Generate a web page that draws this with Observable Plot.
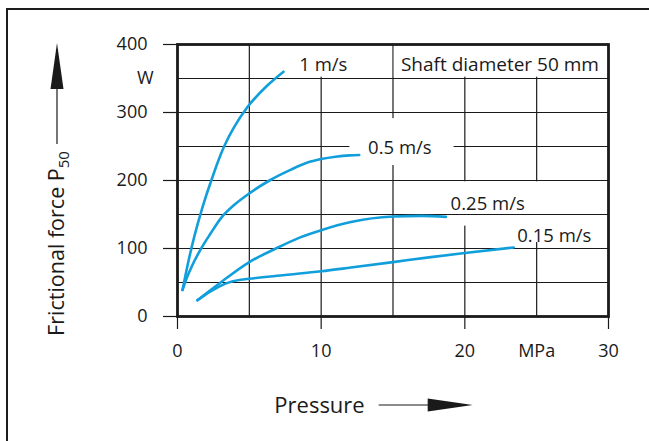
<!DOCTYPE html>
<html><head><meta charset="utf-8">
<script src="https://cdn.jsdelivr.net/npm/d3@7"></script>
<script src="https://cdn.jsdelivr.net/npm/@observablehq/plot@0.6"></script>
<style>
html,body{margin:0;padding:0;background:#fff;overflow:hidden}
#wrap{position:relative;width:649px;height:441px;overflow:hidden}
#border{position:absolute;left:6px;top:8px;width:700px;height:500px;border-left:2.2px solid #1d1d1d;border-top:2.2px solid #1d1d1d;}
#chart{position:absolute;left:0;top:0}
</style></head><body>
<div id="wrap"><div id="border"></div><div id="chart"></div></div>
<script>
// ---- data ----
const speeds = ["1 m/s", "0.5 m/s", "0.25 m/s", "0.15 m/s"];
const press1   = [0.35, 0.8, 1.2, 1.62, 2.0, 2.32, 2.7, 3.0, 3.4, 3.9, 4.87, 6.27, 7.38];
const force1   = [39, 85, 120, 152, 178, 198, 221, 238, 257, 277, 308, 340, 360];
const press05  = [0.35, 0.65, 1.0, 1.62, 2.3, 3.0, 4.0, 5.0, 6.4, 7.9, 9.0, 10.0, 11.0, 12.0, 12.65];
const force05  = [39, 57, 74, 99, 122, 144, 165, 181, 200, 216, 226, 231.5, 235, 237, 237.5];
const press025 = [1.39, 3.0, 5.0, 6.85, 8.5, 10.0, 12.07, 15.0, 17.0, 18.68];
const force025 = [24, 50, 80, 100, 116, 127, 139, 147, 148, 146.5];
const press015 = [1.39, 1.8, 2.3, 2.8, 3.3, 3.8, 4.4, 5.0, 7.5, 10.0, 12.07, 15.0, 17.5, 20.0, 23.4];
const force015 = [24, 30, 37, 43, 48, 51.5, 54, 55.5, 61, 66.5, 72, 80, 87, 93.5, 101.5];

// label anchors (data units) for curve names
const labelPress = [10.15, 15.48, 21.59, 26.23];
const labelForce = [370, 247, 166, 119];
const note = "Shaft diameter 50 mm";
const notePress = 22.44, noteForce = 370.5;

const xTicks = [0, 10, 20, 30];
const yTicks = [0, 100, 200, 300, 400];
const xGrid = [5, 10, 15, 20, 25];
const yGrid = [50, 100, 150, 200, 250, 300, 350];
const xUnit = "MPa", yUnit = "W";
const xTitle = "Pressure";
const yTitle = "Frictional force P";
const yTitleSub = "50";

// gaps in the grid behind the annotations (data units)
const gapV = [ // hide vertical grid lines only
  {x1: 5, x2: 15, y1: 350, y2: 400},
  {x1: 15, x2: 30, y1: 350, y2: 400},
  {x1: 18.9, x2: 24.0, y1: 131, y2: 200},
  {x1: 23.8, x2: 28.6, y1: 107, y2: 200}
];
const gapAll = [ // hide every grid line
  {x1: 12.0, x2: 19.25, y1: 222, y2: 291}
];

const series = [press1, press05, press025, press015];
const forces = [force1, force05, force025, force015];
const rows = series.flatMap((ps, i) => ps.map((p, j) => ({s: speeds[i], p, f: forces[i][j]})));
const labels = speeds.map((s, i) => ({s, p: labelPress[i], f: labelForce[i]}));

const ink = "#1a1a1a";
const blue = "#119fdc";

const plot = Plot.plot({
  width: 649, height: 441,
  marginLeft: 177, marginRight: 41, marginTop: 44, marginBottom: 125,
  x: {domain: [0, 30]},
  y: {domain: [0, 400]},
  style: {fontFamily: "'Open Sans', sans-serif", fontSize: "18px", color: ink, background: "transparent", overflow: "visible"},
  marks: [
    Plot.gridX(xGrid, {stroke: ink, strokeOpacity: 1, strokeWidth: 1.2}),
    Plot.rect(gapV, {x1: "x1", x2: "x2", y1: "y1", y2: "y2", fill: "white", inset: 1.3}),
    Plot.gridY(yGrid, {stroke: ink, strokeOpacity: 1, strokeWidth: 1.2}),
    Plot.rect(gapAll, {x1: "x1", x2: "x2", y1: "y1", y2: "y2", fill: "white"}),
    Plot.frame({stroke: ink, strokeWidth: 2.8}),
    Plot.axisY(yTicks, {tickSize: 14, tickPadding: 16, strokeWidth: 1.2, label: null, fontSize: 18}),
    Plot.axisY([350], {tickSize: 0, tickPadding: 24, tickFormat: () => yUnit, label: null, fontSize: 18}),
    Plot.axisX(xTicks, {tickSize: 13, tickPadding: 15, strokeWidth: 1.2, label: null, fontSize: 18}),
    Plot.axisX([25], {tickSize: 0, tickPadding: 28, tickFormat: () => xUnit, label: null, fontSize: 18}),
    Plot.line(rows, {x: "p", y: "f", z: "s", stroke: blue, strokeWidth: 2.6, curve: "monotone-x"}),
    Plot.text(labels, {x: "p", y: "f", text: "s", fontSize: 18.5, fill: ink}),
    Plot.text([note], {x: () => notePress, y: () => noteForce, fontSize: 19, fill: ink}),
    Plot.text([yTitle], {frameAnchor: "top-left", dx: -120, dy: 199, rotate: -90, textAnchor: "middle", lineAnchor: "middle", fontSize: 21.5, fill: ink, className: "ytitle"}),
    Plot.text([xTitle], {frameAnchor: "bottom-left", dx: 142, dy: 89, textAnchor: "middle", lineAnchor: "middle", fontSize: 22, fill: ink, className: "xtitle"})
  ]
});
document.getElementById("chart").append(plot);

const svg = d3.select(plot);
// subscript on the y title
svg.select(".ytitle text").append("tspan").attr("dy", "0.32em").attr("font-size", "15px").text(yTitleSub);

// arrows next to the axis titles
const ys = plot.scale("y");
const yt = plot.querySelector(".ytitle text").getBoundingClientRect();
const xt = plot.querySelector(".xtitle text").getBoundingClientRect();
const ax = 177 - 120;
const tipY = ys.apply(400) - 1;
const baseY = tipY + 46;
const g = svg.append("g").attr("fill", ink).attr("stroke", ink);
g.append("line").attr("x1", ax).attr("x2", ax).attr("y1", yt.top - 7).attr("y2", baseY).attr("stroke-width", 1.2);
g.append("path").attr("stroke", "none").attr("d", `M${ax},${tipY}L${ax - 6.5},${baseY}L${ax + 6.5},${baseY}Z`);
const ay = 405;
const x0 = xt.right + 14;
g.append("line").attr("x1", x0).attr("x2", x0 + 50).attr("y1", ay).attr("y2", ay).attr("stroke-width", 1.2);
g.append("path").attr("stroke", "none").attr("d", `M${x0 + 94},${ay}L${x0 + 49},${ay - 6.5}L${x0 + 49},${ay + 6.5}Z`);
</script>
</body></html>
